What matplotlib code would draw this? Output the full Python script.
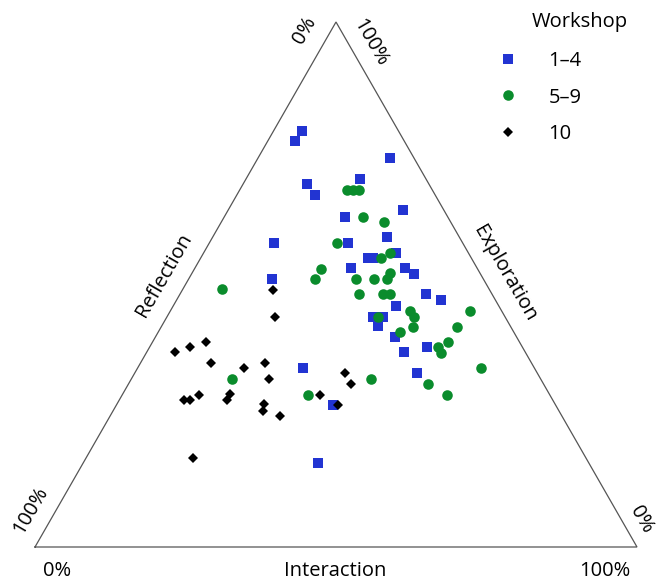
import matplotlib
matplotlib.use("Agg")
import matplotlib.pyplot as plt
import numpy as np

plt.rcParams['font.family'] = ['Open Sans', 'DejaVu Sans']

# Ternary data (percent): Exploration, Interaction, Reflection
w14_exploration = [79.2, 77.3, 69.1, 67.0, 57.9, 74.1, 70.1, 64.2, 62.9, 59.0, 57.9, 55.0, 55.0, 56.0, 53.1, 53.1,
                   52.0, 48.2, 47.0, 45.9, 43.8, 43.8, 42.1, 40.0, 38.1, 37.1, 33.1, 34.1, 27.0, 16.0, 51.0]
w14_interaction = [4.8, 4.5, 10.7, 13.0, 10.7, 22.0, 19.0, 29.0, 20.1, 29.0, 23.0, 27.8, 28.6, 32.0, 25.9, 34.9,
                   37.0, 40.9, 43.9, 37.0, 34.2, 35.9, 36.0, 39.8, 46.0, 42.7, 46.9, 27.4, 36.0, 39.0, 13.9]
w14_reflection = [16.0, 18.2, 20.2, 20.0, 31.4, 3.9, 10.9, 6.8, 17.0, 12.0, 19.1, 17.2, 16.4, 12.0, 21.0, 12.0,
                  11.0, 10.9, 9.1, 17.1, 22.0, 20.3, 21.9, 20.2, 15.9, 20.2, 20.0, 38.5, 37.0, 45.0, 35.1]

w59_exploration = [68.0, 68.0, 68.0, 62.9, 61.9, 57.9, 56.0, 55.0, 53.0, 51.0, 52.2, 51.0, 51.0, 51.0, 48.2, 48.2,
                   48.2, 45.0, 43.8, 45.0, 43.8, 41.9, 41.9, 41.0, 39.0, 38.1, 37.0, 34.1, 31.0, 29.0, 32.0, 29.0,
                   32.0, 49.1]
w59_interaction = [17.8, 18.8, 19.8, 23.1, 27.1, 21.2, 31.0, 30.0, 21.0, 21.0, 32.9, 33.0, 27.8, 30.8, 29.7, 33.7,
                   34.9, 39.8, 41.1, 49.8, 35.1, 41.8, 49.1, 40.1, 49.1, 47.9, 48.9, 57.1, 49.8, 53.9, 39.8, 30.8,
                   16.7, 6.5]
w59_reflection = [14.2, 13.2, 12.2, 14.0, 11.0, 20.9, 13.0, 15.0, 26.0, 28.0, 14.9, 16.0, 21.2, 18.2, 22.1, 18.1,
                  16.9, 15.2, 15.1, 5.2, 21.1, 16.3, 9.0, 18.9, 11.9, 14.0, 14.1, 8.8, 19.2, 17.1, 28.2, 40.2,
                  51.3, 44.4]

w10_exploration = [49.0, 43.8, 39.0, 38.1, 37.1, 35.0, 34.1, 35.0, 32.0, 29.0, 28.0, 28.0, 29.1, 28.0, 27.2, 25.9,
                   25.0, 17.0, 33.1, 31.0, 29.0, 27.0]
w10_interaction = [15.0, 18.0, 8.9, 6.7, 4.7, 11.7, 17.6, 20.7, 22.9, 12.7, 10.8, 11.7, 17.8, 17.9, 24.4, 24.9,
                   28.2, 17.7, 34.9, 37.0, 32.8, 36.8]
w10_reflection = [36.0, 38.2, 52.1, 55.2, 58.2, 53.3, 48.3, 44.3, 45.1, 58.3, 61.2, 60.3, 53.1, 54.1, 48.4, 49.2,
                  46.8, 65.3, 32.0, 32.0, 38.2, 36.2]

series_labels = ["1\u20134", "5\u20139", "10"]
legend_title = "Workshop"

# Geometry (pixel-scaled so the triangle matches the reference)
W, H = 656, 581
BLx, BLy, side = 35, 547, 602
tri_h = 525 / 602


def tern(e, i, r):
    e = np.asarray(e, float); i = np.asarray(i, float); r = np.asarray(r, float)
    s = e + i + r
    e, i = e / s, i / s
    return i + 0.5 * e, e * tri_h


def P(x, y):
    return (x - BLx) / side, (BLy - y) / side


fig = plt.figure(figsize=(W / 100, H / 100), dpi=100)
ax = fig.add_axes([0, 0, 1, 1])
ax.set_xlim(-BLx / side, (W - BLx) / side)
ax.set_ylim(-(H - BLy) / side, BLy / side)
ax.axis('off')

# triangle
ax.plot([0, 1, 0.5, 0], [0, 0, tri_h, 0], color='#555555', lw=0.9, solid_joinstyle='miter')

x1, y1 = tern(w14_exploration, w14_interaction, w14_reflection)
x2, y2 = tern(w59_exploration, w59_interaction, w59_reflection)
x3, y3 = tern(w10_exploration, w10_interaction, w10_reflection)

h1, = ax.plot(x1, y1, 's', color='#2234d2', markersize=7.2, markeredgewidth=0, linestyle='none', label=series_labels[0])
h2, = ax.plot(x2, y2, 'o', color='#0a8c2c', markersize=7.6, markeredgewidth=0, linestyle='none', label=series_labels[1])
h3, = ax.plot(x3, y3, 'D', color='black', markersize=5.6, markeredgewidth=0, linestyle='none', label=series_labels[2])

fs = 14.5
ax.text(*P(335, 571), "Interaction", fontsize=fs, ha='center', va='center')
ax.text(*P(57, 571), "0%", fontsize=fs, ha='center', va='center')
ax.text(*P(605, 571), "100%", fontsize=fs, ha='center', va='center')
ax.text(*P(164, 275), "Reflection", fontsize=fs, ha='center', va='center', rotation=60)
ax.text(*P(505, 274), "Exploration", fontsize=fs, ha='center', va='center', rotation=-60)
ax.text(*P(305, 30), "0%", fontsize=fs, ha='center', va='center', rotation=60)
ax.text(*P(370, 43), "100%", fontsize=fs, ha='center', va='center', rotation=-60)
ax.text(*P(31, 510), "100%", fontsize=fs, ha='center', va='center', rotation=60)
ax.text(*P(641, 520), "0%", fontsize=fs, ha='center', va='center', rotation=-60)

ax.text(*P(580, 22), legend_title, fontsize=fs, ha='center', va='center')
leg = ax.legend(handles=[h1, h2, h3], loc='upper left', bbox_to_anchor=(498 / W, 1 - 51 / H),
                bbox_transform=fig.transFigure, frameon=False, fontsize=fs, handlelength=1.0,
                handletextpad=1.5, labelspacing=0.82, borderpad=0, borderaxespad=0)

fig.savefig('out.png', dpi=100)
